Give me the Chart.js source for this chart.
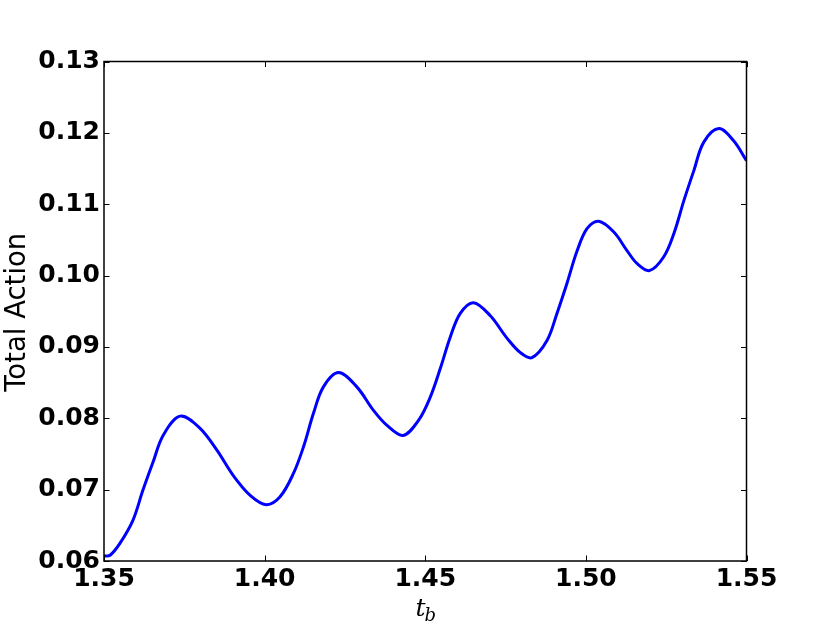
<!DOCTYPE html>
<html>
<head>
<meta charset="utf-8">
<script src="https://cdn.jsdelivr.net/npm/chart.js@4.4.0/dist/chart.umd.min.js"></script>
<style>
html,body{margin:0;padding:0;background:#fff;}
#wrap{width:830px;height:623px;}
</style>
</head>
<body>
<div id="wrap"><canvas id="c" width="830" height="623"></canvas></div>
<script>
const tb = [1.3500,1.3519,1.3550,1.3590,1.3621,1.3653,1.3684,1.3737,1.3799,1.3852,1.3902,1.3955,1.4005,1.4048,1.4090,1.4121,1.4152,1.4183,1.4230,1.4287,1.4339,1.4381,1.4431,1.4479,1.4516,1.4547,1.4578,1.4609,1.4650,1.4702,1.4755,1.4796,1.4832,1.4879,1.4910,1.4941,1.4973,1.5004,1.5040,1.5087,1.5128,1.5159,1.5198,1.5242,1.5274,1.5305,1.5336,1.5367,1.5414,1.5460,1.5500];
const action = [0.0607,0.0608,0.0625,0.0657,0.0699,0.0739,0.0776,0.0803,0.0786,0.0755,0.0720,0.0692,0.0679,0.0690,0.0723,0.0760,0.0807,0.0844,0.0864,0.0844,0.0811,0.0790,0.0776,0.0797,0.0830,0.0870,0.0914,0.0947,0.0962,0.0944,0.0912,0.0892,0.0885,0.0909,0.0947,0.0989,0.1035,0.1066,0.1076,0.1061,0.1035,0.1017,0.1007,0.1026,0.1059,0.1105,0.1147,0.1187,0.1206,0.1189,0.1161];
const xTicks = [1.35,1.40,1.45,1.50,1.55];
const yTicks = [0.06,0.07,0.08,0.09,0.10,0.11,0.12,0.13];
const xLabelMain = 't';
const xLabelSub = 'b';
const yLabel = 'Total Action';

const tickFont = {family:'DejaVu Sans', size:25, weight:'bold'};

const framePlugin = {
  id:'frame',
  afterDraw(chart){
    const ctx = chart.ctx, a = chart.chartArea;
    const xs = chart.scales.x, ys = chart.scales.y;
    const L = 5.5;
    ctx.save();
    ctx.strokeStyle = '#000';
    ctx.lineWidth = 1;
    ctx.beginPath();
    xTicks.forEach(v=>{
      const p = Math.round(xs.getPixelForValue(v))+0.5;
      ctx.moveTo(p,a.bottom); ctx.lineTo(p,a.bottom-L);
      ctx.moveTo(p,a.top); ctx.lineTo(p,a.top+L);
    });
    yTicks.forEach(v=>{
      const p = Math.round(ys.getPixelForValue(v))+0.5;
      ctx.moveTo(a.left,p); ctx.lineTo(a.left+L,p);
      ctx.moveTo(a.right,p); ctx.lineTo(a.right-L,p);
    });
    ctx.stroke();
    ctx.lineWidth = 1.5;
    ctx.strokeRect(a.left, a.top, a.right-a.left, a.bottom-a.top);
    ctx.fillStyle = '#000';
    // x title with subscript
    const cx = (a.left+a.right)/2;
    ctx.textBaseline = 'alphabetic';
    ctx.textAlign = 'left';
    ctx.font = 'italic 25px "DejaVu Serif"';
    const w1 = ctx.measureText(xLabelMain).width;
    ctx.font = 'italic 18px "DejaVu Serif"';
    const w2 = ctx.measureText(xLabelSub).width;
    const startX = cx - (w1+w2)/2 + 1;
    ctx.font = 'italic 25px "DejaVu Serif"';
    ctx.fillText(xLabelMain, startX, 616);
    ctx.font = 'italic 18px "DejaVu Serif"';
    ctx.fillText(xLabelSub, startX + w1 - 1, 621);
    // y title
    ctx.save();
    ctx.translate(25, (a.top+a.bottom)/2 + 1);
    ctx.rotate(-Math.PI/2);
    ctx.textAlign = 'center';
    ctx.font = '27.5px "DejaVu Sans"';
    ctx.fillText(yLabel, 0, 0);
    ctx.restore();
    ctx.restore();
  }
};

new Chart(document.getElementById('c'), {
  type:'line',
  data:{
    datasets:[{
      data: tb.map((x,i)=>({x:x, y:action[i]})),
      borderColor:'#0000ff',
      borderWidth:3,
      pointRadius:0,
      fill:false,
      tension:0.35
    }]
  },
  options:{
    responsive:false,
    animation:false,
    devicePixelRatio:1,
    layout:{padding:{left:0, right:83.5, top:61.5, bottom:0}},
    plugins:{legend:{display:false}, tooltip:{enabled:false}},
    scales:{
      x:{
        type:'linear', min:1.35, max:1.55,
        grid:{display:false, drawTicks:false},
        border:{display:false},
        afterBuildTicks(s){ s.ticks = xTicks.map(v=>({value:v})); },
        afterFit(s){ s.height = 62; },
        ticks:{font:tickFont, color:'#000', padding:3, maxRotation:0, autoSkip:false,
          callback:v=>Number(v).toFixed(2)}
      },
      y:{
        type:'linear', min:0.06, max:0.13,
        grid:{display:false, drawTicks:false},
        border:{display:false},
        afterBuildTicks(s){ s.ticks = yTicks.map(v=>({value:v})); },
        afterFit(s){ s.width = 104; },
        ticks:{font:tickFont, color:'#000', padding:4, autoSkip:false,
          callback:v=>Number(v).toFixed(2)}
      }
    }
  },
  plugins:[framePlugin]
});
</script>
</body>
</html>
